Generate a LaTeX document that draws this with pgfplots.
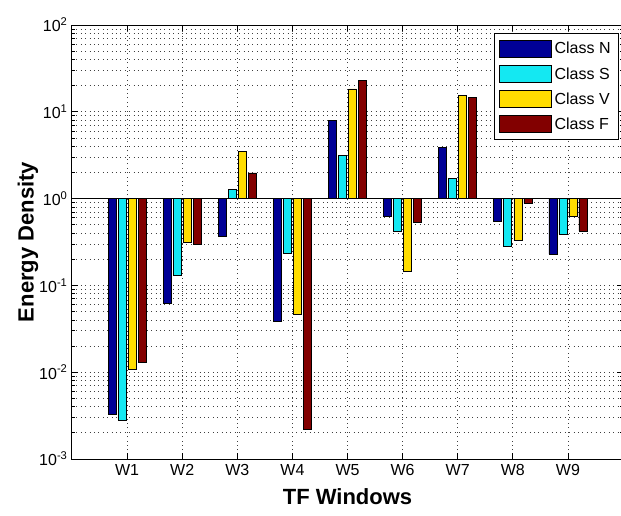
\documentclass[border=0pt]{standalone}
\usepackage{fontspec}
\setmainfont{Liberation Sans}
\usepackage{pgfplots}
\pgfplotsset{compat=1.18}

\definecolor{cN}{RGB}{0,0,150}
\definecolor{cS}{RGB}{20,232,242}
\definecolor{cV}{RGB}{255,221,0}
\definecolor{cF}{RGB}{130,0,0}

\begin{document}
\begin{tikzpicture}
\begin{axis}[
    at={(0,0)}, anchor=south west,
    scale only axis,
    width=551pt, height=434pt,
    xmin=0, xmax=10,
    ymode=log, ymin=1e-3, ymax=1e2,
    xtick={1,2,3,4,5,6,7,8,9},
    xticklabels={W1,W2,W3,W4,W5,W6,W7,W8,W9},
    ytick={1e-3,1e-2,1e-1,1,1e1,1e2},
    yticklabels={10\textsuperscript{-3},10\textsuperscript{-2},10\textsuperscript{-1},10\textsuperscript{0},10\textsuperscript{1},10\textsuperscript{2}},
    minor ytick={2e-3,3e-3,4e-3,5e-3,6e-3,7e-3,8e-3,9e-3,
                 2e-2,3e-2,4e-2,5e-2,6e-2,7e-2,8e-2,9e-2,
                 2e-1,3e-1,4e-1,5e-1,6e-1,7e-1,8e-1,9e-1,
                 2,3,4,5,6,7,8,9,20,30,40,50,60,70,80,90},
    grid=both,
    major grid style={black!75, line width=0.8pt, dash pattern=on 0.8pt off 3.6pt},
    minor grid style={black!75, line width=0.8pt, dash pattern=on 0.8pt off 3.6pt},
    axis line style={black, line width=1pt},
    major tick length=6pt, minor tick length=3pt,
    tick style={black, line width=0.8pt},
    ticklabel style={font=\fontsize{16}{18}\selectfont},
    yticklabel style={xshift=-1pt},
    xticklabel style={yshift=-2pt},
    xlabel={TF Windows}, ylabel={Energy Density},
    every axis x label/.style={at={(axis description cs:0.5,-0.0876)}, anchor=center,
        font=\fontsize{22}{26}\selectfont\bfseries},
    every axis y label/.style={at={(axis description cs:-0.0799,0.5)}, rotate=90, anchor=center,
        font=\fontsize{22}{26}\selectfont\bfseries},
    extra y ticks={1}, extra y tick labels={},
    extra y tick style={grid=major, major grid style={solid, black, line width=0.9pt}, major tick length=0pt},
    legend style={at={(0.9927,0.9816)}, anchor=north east, draw=black, line width=0.8pt,
        fill=white, font=\fontsize{16}{18}\selectfont,
        inner xsep=5pt, inner ysep=6pt, row sep=6pt,
        nodes={inner sep=3pt}, cells={anchor=west}},
]
\addplot[ybar, bar width=0.145, bar shift=-0.273, fill=cN, draw=black, line width=0.6pt,
    legend image code/.code={\draw[fill=cN, draw=black, line width=0.6pt] (0pt,-8.5pt) rectangle (52pt,8.5pt);}]
    coordinates {(1,0.00327) (2,0.0617) (3,0.365) (4,0.0383) (5,7.9) (6,0.625) (7,3.9) (8,0.548) (9,0.229)};
\addlegendentry{Class N}
\addplot[ybar, bar width=0.145, bar shift=-0.091, fill=cS, draw=black, line width=0.6pt,
    legend image code/.code={\draw[fill=cS, draw=black, line width=0.6pt] (0pt,-8.5pt) rectangle (52pt,8.5pt);}]
    coordinates {(1,0.00277) (2,0.130) (3,1.28) (4,0.237) (5,3.15) (6,0.425) (7,1.71) (8,0.28) (9,0.392)};
\addlegendentry{Class S}
\addplot[ybar, bar width=0.145, bar shift=0.091, fill=cV, draw=black, line width=0.6pt,
    legend image code/.code={\draw[fill=cV, draw=black, line width=0.6pt] (0pt,-8.5pt) rectangle (52pt,8.5pt);}]
    coordinates {(1,0.0107) (2,0.314) (3,3.48) (4,0.0461) (5,18.4) (6,0.144) (7,15.4) (8,0.33) (9,0.63)};
\addlegendentry{Class V}
\addplot[ybar, bar width=0.145, bar shift=0.273, fill=cF, draw=black, line width=0.6pt,
    legend image code/.code={\draw[fill=cF, draw=black, line width=0.6pt] (0pt,-8.5pt) rectangle (52pt,8.5pt);}]
    coordinates {(1,0.0131) (2,0.295) (3,1.98) (4,0.00218) (5,23) (6,0.533) (7,14.5) (8,0.88) (9,0.425)};
\addlegendentry{Class F}
\end{axis}
\pgfresetboundingbox
\path[use as bounding box] (-72pt,-56pt) rectangle (549pt,459pt);
\end{tikzpicture}
\end{document}
